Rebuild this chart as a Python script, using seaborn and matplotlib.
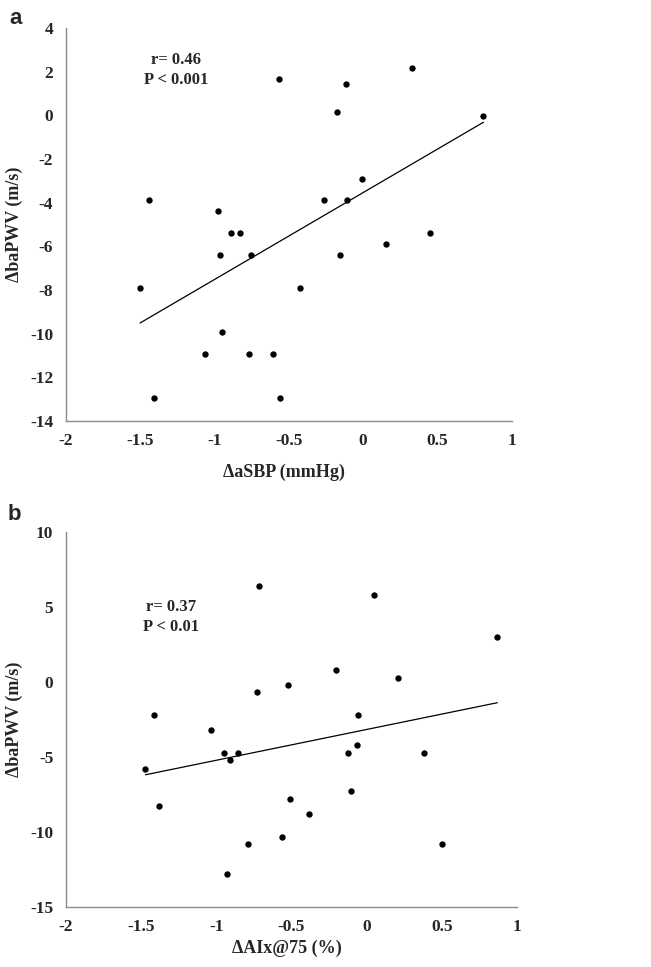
import matplotlib
matplotlib.use("Agg")
import matplotlib.pyplot as plt
import seaborn as sns
import pandas as pd
from matplotlib.ticker import FuncFormatter, MultipleLocator

# panel a: change in aortic SBP vs change in baPWV
asbp_x = [-1.44, -0.565, -0.175, -0.115, 0.33, 0.81, -0.01, -0.26, -0.105,
          -0.975, -0.885, -0.827, 0.448, 0.157, -0.965, -0.756, -0.157,
          -1.50, -0.424, -0.948, -1.065, -0.769, -0.605, -1.406, -0.558]
asbp_y = [-3.9, 1.65, 0.15, 1.45, 2.15, -0.05, -2.9, -3.9, -3.9,
          -4.4, -5.4, -5.4, -5.4, -5.9, -6.4, -6.4, -6.4,
          -7.9, -7.9, -9.95, -10.95, -10.95, -10.95, -12.95, -12.95]

# panel b: change in AIx@75 vs change in baPWV
aix_x = [-0.715, 0.05, 0.87, -0.205, 0.21, -0.52, -0.725, -1.41, -0.055,
         -1.035, -0.945, -0.855, -0.91, -1.47, -0.065, -0.125, 0.385,
         -0.105, -0.51, -1.38, -0.38, -0.56, -0.79, 0.505, -0.93]
aix_y = [6.35, 5.8, 3.0, 0.8, 0.25, -0.2, -0.7, -2.25, -2.25,
         -3.25, -4.75, -4.75, -5.25, -5.8, -4.25, -4.75, -4.75,
         -7.3, -7.8, -8.3, -8.8, -10.35, -10.8, -10.8, -12.8]

stats_a = ["r= 0.46", "P < 0.001"]
stats_b = ["r= 0.37", "P < 0.01"]

sns.set_style("white")
plt.rcParams["font.family"] = ["Liberation Serif", "DejaVu Serif"]
plt.rcParams["axes.unicode_minus"] = False

fig = plt.figure(figsize=(6.51, 9.67), dpi=100)
ax_a = fig.add_axes([0.101, 0.5647, 0.685, 0.4065])
ax_b = fig.add_axes([0.101, 0.0624, 0.693, 0.3878])


def draw_panel(ax, x, y, xlabel, ylim, ystep, stats, stat_pos, xlab_y):
    df = pd.DataFrame({"x": x, "y": y})
    sns.scatterplot(data=df, x="x", y="y", ax=ax, color="black", s=21,
                    edgecolor="black", linewidth=0, zorder=3)
    sns.regplot(data=df, x="x", y="y", ax=ax, scatter=False, ci=None,
                line_kws={"color": "black", "lw": 0.9})
    ax.set_xlim(-2, 1)
    ax.set_ylim(*ylim)
    ax.xaxis.set_major_locator(MultipleLocator(0.5))
    ax.yaxis.set_major_locator(MultipleLocator(ystep))
    ax.xaxis.set_major_formatter(FuncFormatter(lambda v, p: "%g" % v))
    ax.yaxis.set_major_formatter(FuncFormatter(lambda v, p: "%g" % v))
    ax.tick_params(length=0, labelsize=12.5, pad=9)
    for t in ax.get_xticklabels() + ax.get_yticklabels():
        t.set_fontweight("bold")
    for s in ["top", "right"]:
        ax.spines[s].set_visible(False)
    for s in ["left", "bottom"]:
        ax.spines[s].set_color("#8c8c8c")
        ax.spines[s].set_linewidth(1.0)
    ax.set_xlabel(xlabel, fontsize=13, fontweight="bold")
    ax.set_ylabel("ΔbaPWV (m/s)", fontsize=13, fontweight="bold")
    ax.xaxis.set_label_coords(0.49, xlab_y)
    ax.xaxis.label.set_va("center")
    ax.yaxis.set_label_coords(-0.115, 0.5)
    ax.yaxis.label.set_va("center")
    ax.text(stat_pos[0], stat_pos[1], "\n".join(stats), ha="center",
            va="center", fontsize=12, fontweight="bold", linespacing=1.3)


draw_panel(ax_a, asbp_x, asbp_y, "ΔaSBP (mmHg)", (-14, 4), 2,
           stats_a, (-1.255, 2.07), -0.13)
draw_panel(ax_b, aix_x, aix_y, "ΔAIx@75 (%)", (-15, 10), 5,
           stats_b, (-1.30, 4.3), -0.112)

fig.text(16 / 651, 1 - 18 / 967, "a", ha="center", va="center",
         fontsize=16, fontweight="bold", family="Liberation Sans")
fig.text(14 / 651, 1 - 515 / 967, "b", ha="center", va="center",
         fontsize=16, fontweight="bold", family="Liberation Sans")

fig.savefig("out.png", dpi=100)
plt.close(fig)
